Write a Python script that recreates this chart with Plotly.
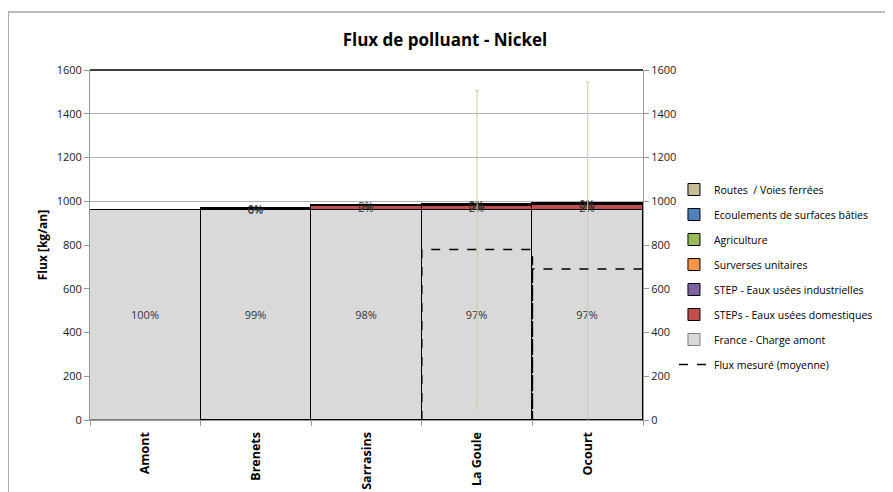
import plotly.graph_objects as go

# Sites along the river
sites = ['Amont', 'Brenets', 'Sarrasins', 'La Goule', 'Ocourt']

# Flux par source [kg/an], empilés du bas vers le haut
france_amont = [960, 960, 960, 960, 960]
steps_domestiques = [0, 4, 18, 20, 21]
step_industrielles = [0, 1, 0.5, 1, 1]
surverses = [0, 1, 1, 2, 3]
agriculture = [0, 1, 1, 2, 2]
ecoulements = [0, 1, 1, 2, 2]
routes = [0, 1, 1, 1, 1]

# Flux mesuré (moyenne) et écart-type
mesure_sites = [3, 4]
mesure_moyenne = [780, 690]
mesure_ecart = [725, 855]

series = [
    ('France - Charge amont', france_amont, '#d9d9d9'),
    ('STEPs - Eaux usées domestiques', steps_domestiques, '#c0504d'),
    ('STEP - Eaux usées industrielles', step_industrielles, '#8064a2'),
    ('Surverses unitaires', surverses, '#f79646'),
    ('Agriculture', agriculture, '#9bbb59'),
    ('Ecoulements de surfaces bâties', ecoulements, '#4f81bd'),
    ('Routes  / Voies ferrées', routes, '#c4bd97'),
]

totals = [sum(s[1][i] for s in series) for i in range(len(sites))]
x_pos = list(range(len(sites)))
FONT = 'Open Sans'

fig = go.Figure()

for n, (name, vals, color) in enumerate(series):
    text = [f'{round(v / t * 100):.0f}%' if v > 0 else '' for v, t in zip(vals, totals)]
    if n == 0:
        line_col = ['#7f7f7f'] + ['black'] * (len(sites) - 1)
    else:
        line_col = 'black'
    fig.add_trace(go.Bar(
        x=x_pos, y=vals, width=1, name=name,
        legendgroup=f'g{n}', legendrank=len(series) - n,
        marker=dict(color=color, line=dict(color=line_col, width=1)),
        text=text, textposition='inside', insidetextanchor='middle',
        constraintext='none', textangle=0,
        textfont=dict(family=FONT, size=11, color='#333333'),
    ))

# Measured flux on the secondary axis (drawn over the stacks)
outline_x, outline_y = [], []
for k, v in zip(mesure_sites, mesure_moyenne):
    outline_x += [k - 0.5, k - 0.5, k + 0.5, k + 0.5, k - 0.5, None]
    outline_y += [0, v, v, 0, 0, None]

fig.add_trace(go.Scatter(
    x=mesure_sites, y=mesure_moyenne, yaxis='y2', mode='markers',
    marker=dict(size=1, opacity=0),
    error_y=dict(type='data', array=mesure_ecart, color='#cfc9a6',
                 thickness=1, width=2),
    showlegend=False, hoverinfo='skip',
))
fig.add_trace(go.Scatter(
    x=outline_x, y=outline_y, yaxis='y2', mode='lines',
    line=dict(color='black', width=1.5, dash='dash'),
    name='Flux mesuré (moyenne)', legendgroup='g8', legendrank=8,
))

# the page body adds an 8 px offset, margins compensate for it
axis_font = dict(family=FONT, size=11, color='#222222')
fig.update_layout(
    width=893, height=492,
    barmode='stack', bargap=0,
    plot_bgcolor='white', paper_bgcolor='white',
    margin=dict(l=82, r=258, t=62, b=80, autoexpand=False),
    title=dict(text='<b>Flux de polluant - Nickel</b>', x=437 / 893, y=0.935,
               xanchor='center', yanchor='middle',
               font=dict(family=FONT, size=17, color='black')),
    xaxis=dict(range=[-0.5, 4.5], tickvals=x_pos, ticktext=[f'<b>{s}</b>' for s in sites],
               tickangle=-90, ticks='', showgrid=False, zeroline=False, automargin=False,
               showline=True, linecolor='#999999', linewidth=1, ticklabelstandoff=6,
               tickfont=dict(family=FONT, size=12.5, color='black'),
               minor=dict(tickvals=[-0.5, 0.5, 1.5, 2.5, 3.5, 4.5], ticks='outside',
                          ticklen=5, tickcolor='#999999', showgrid=False)),
    yaxis=dict(range=[0, 1600], dtick=200, ticks='outside', ticklen=5, automargin=False,
               tickcolor='#999999', showline=True, linecolor='#999999',
               gridcolor='#b3b3b3', zeroline=False, tickfont=axis_font,
               title=dict(text='<b>Flux [kg/an]</b>', standoff=6,
                          font=dict(family=FONT, size=12, color='black'))),
    yaxis2=dict(range=[0, 1600], dtick=200, overlaying='y', side='right', automargin=False,
                ticks='outside', ticklen=5, tickcolor='#999999', showline=True,
                linecolor='#999999', showgrid=False, zeroline=False, tickfont=axis_font),
    legend=dict(x=1.056, y=0.70, xanchor='left', yanchor='top',
                traceorder='grouped', tracegroupgap=6,
                font=dict(family=FONT, size=10.5, color='black'),
                itemwidth=30, bgcolor='rgba(0,0,0,0)'),
    shapes=[
        # top border of the plot area
        dict(type='line', xref='paper', yref='paper', x0=0, x1=1, y0=1, y1=1,
             line=dict(color='black', width=1.5)),
        # chart area frame
        dict(type='rect', xref='paper', yref='paper', x0=-0.148, x1=1.6,
             y0=-0.4, y1=1.166, line=dict(color='#a6a6a6', width=1.5), layer='below'),
    ],
)

fig.write_html('out.html')
